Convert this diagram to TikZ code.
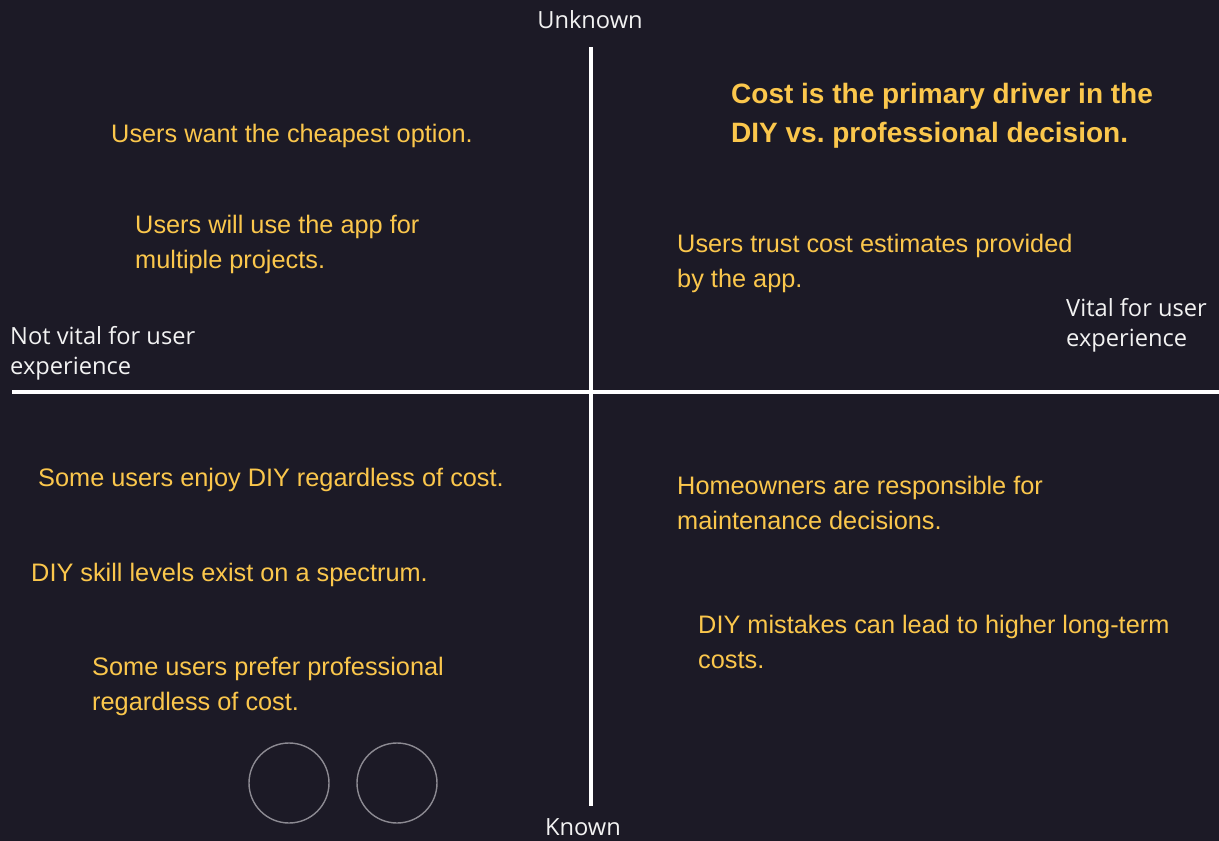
\documentclass[tikz,border=0pt]{standalone}
\usepackage{fontspec}
\setmainfont{Liberation Sans}
\newfontfamily\axisfont{Open Sans}
\definecolor{bgdark}{HTML}{1C1A26}
\definecolor{claimyellow}{HTML}{FBC74C}
\definecolor{ringgray}{HTML}{8C8A92}
\definecolor{axiswhite}{HTML}{F2F2F2}
\begin{document}
\begin{tikzpicture}[
  x=0.03cm, y=-0.03cm,
  claim/.style={anchor=west, inner sep=0pt, align=left, text=claimyellow,
    font=\fontsize{21.6}{29.8}\selectfont},
  keyclaim/.style={claim, font=\fontsize{23.9}{33.2}\selectfont\bfseries},
  axislabel/.style={inner sep=0pt, align=left, text=axiswhite,
    font=\axisfont\fontsize{20.2}{25.5}\selectfont},
  axisline/.style={draw=white, line width=2.7pt},
  ring/.style={draw=ringgray, line width=1.2pt}
]
\fill[bgdark] (0,0) rectangle (1219,841);
\useasboundingbox (0,0) rectangle (1219,841);
% axes
\coordinate (top) at (591,47);
\coordinate (bottom) at (591,806);
\coordinate (left) at (12,392);
\coordinate (right) at (1219,392);
\draw[axisline] (top) -- (bottom);
\draw[axisline] (left) -- (right);
\node[axislabel] (unknown) at (590,20) {Unknown};
\node[axislabel] (known) at (583,827) {Known};
\node[axislabel, anchor=west] (notvital) at (10,353) {Not vital for user\\experience};
\node[axislabel, anchor=west] (vital) at (1066,325) {Vital for user\\experience};
% unknown, not vital
\node[claim] (cheapest) at (111,136) {Users want the cheapest option.};
\node[claim] (multiple) at (135,244) {Users will use the app for\\multiple projects.};
% unknown, vital
\node[keyclaim] (driver) at (731,116) {Cost is the primary driver in the\\DIY vs.\ professional decision.};
\node[claim] (trust) at (677,263) {Users trust cost estimates provided\\by the app.};
% known, not vital
\node[claim] (enjoy) at (38,480) {Some users enjoy DIY regardless of cost.};
\node[claim] (skill) at (31,575) {DIY skill levels exist on a spectrum.};
\node[claim] (prefer) at (92,686) {Some users prefer professional\\regardless of cost.};
% known, vital
\node[claim] (owners) at (677,503) {Homeowners are responsible for\\maintenance decisions.};
\node[claim] (mistakes) at (698,642) {DIY mistakes can lead to higher long-term\\costs.};
% rings
\node[ring, circle, minimum size=80*0.03cm] (ringa) at (289,783) {};
\node[ring, circle, minimum size=80*0.03cm] (ringb) at (397,783) {};
\end{tikzpicture}
\end{document}
